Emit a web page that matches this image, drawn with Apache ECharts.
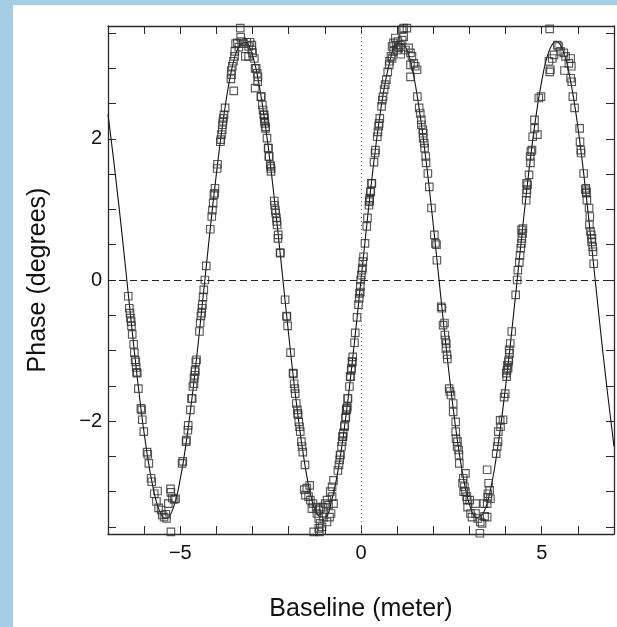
<!DOCTYPE html>
<html>
<head>
<meta charset="utf-8">
<script src="https://cdn.jsdelivr.net/npm/echarts/dist/echarts.min.js"></script>
<style>
html,body{margin:0;padding:0;background:#ffffff;}
#bandL{position:absolute;left:0;top:0;width:13px;height:627px;background:#a5cce4;}
#bandT{position:absolute;left:0;top:0;width:617px;height:5px;background:#a5cce4;}
#chart{position:absolute;left:0;top:0;width:617px;height:627px;}
</style>
</head>
<body>
<div id="bandL"></div>
<div id="bandT"></div>
<div id="chart"></div>
<script>
// ---- axis ticks / labels ----
const xTickValues = [-6,-5,-4,-3,-2,-1,0,1,2,3,4,5,6];
const xLabelValues = [-5,0,5];
const yTickValues = [-3.5,-3,-2.5,-2,-1.5,-1,-0.5,0,0.5,1,1.5,2,2.5,3,3.5];
const yLabelValues = [-2,0,2];

// ---- fitted model curve ----
const fitCurve = [[-7.0,2.35],[-6.8,1.51],[-6.6,0.59],[-6.4,-0.39],[-6.2,-1.34],[-6.0,-2.17],[-5.8,-2.82],[-5.6,-3.24],[-5.4,-3.38],[-5.2,-3.24],[-5.0,-2.82],[-4.8,-2.17],[-4.6,-1.34],[-4.4,-0.39],[-4.2,0.59],[-4.0,1.51],[-3.8,2.31],[-3.6,2.93],[-3.4,3.29],[-3.2,3.37],[-3.0,3.18],[-2.8,2.71],[-2.6,2.02],[-2.4,1.16],[-2.2,0.20],[-2.0,-0.78],[-1.8,-1.69],[-1.6,-2.46],[-1.4,-3.03],[-1.2,-3.33],[-1.0,-3.36],[-0.8,-3.10],[-0.6,-2.59],[-0.4,-1.86],[-0.2,-0.97],[0,0],[0.2,0.97],[0.4,1.86],[0.6,2.59],[0.8,3.10],[1.0,3.36],[1.2,3.33],[1.4,3.03],[1.6,2.46],[1.8,1.69],[2.0,0.78],[2.2,-0.20],[2.4,-1.16],[2.6,-2.02],[2.8,-2.71],[3.0,-3.18],[3.2,-3.37],[3.4,-3.29],[3.6,-2.93],[3.8,-2.31],[4.0,-1.51],[4.2,-0.59],[4.4,0.39],[4.6,1.34],[4.8,2.17],[5.0,2.82],[5.2,3.24],[5.4,3.38],[5.6,3.24],[5.8,2.82],[6.0,2.17],[6.2,1.34],[6.4,0.39],[6.6,-0.59],[6.8,-1.51],[7.0,-2.36]];

// ---- measured phases (baseline m, phase deg) ----
const obsLeft = [[-6.44,-0.23],[-6.41,-0.40],[-6.39,-0.47],[-6.38,-0.54],[-6.36,-0.59],[-6.35,-0.65],[-6.33,-0.77],[-6.29,-0.91],[-6.27,-1.03],[-6.25,-1.13],[-6.23,-1.16],[-6.22,-1.24],[-6.21,-1.31],[-6.19,-1.32],[-6.16,-1.54],[-6.09,-1.82],[-6.07,-1.84],[-6.05,-1.98],[-6.01,-2.15],[-5.92,-2.44],[-5.90,-2.47],[-5.87,-2.60],[-5.81,-2.81],[-5.79,-2.86],[-5.72,-3.03],[-5.66,-3.14],[-5.63,-2.99],[-5.60,-3.23],[-5.53,-3.26],[-5.50,-3.33],[-5.45,-3.36],[-5.40,-3.32],[-5.38,-3.38],[-5.33,-3.17],[-5.27,-2.96],[-5.26,-3.01],[-5.22,-3.09],[-5.17,-3.11],[-5.13,-3.10],[-5.26,-3.57],[-4.95,-2.60],[-4.93,-2.57]];
const obsRiseA = [[-4.84,-2.29],[-4.83,-2.27],[-4.79,-2.13],[-4.78,-2.06],[-4.72,-1.84],[-4.69,-1.68],[-4.67,-1.68],[-4.65,-1.51],[-4.62,-1.47],[-4.62,-1.39],[-4.60,-1.35],[-4.59,-1.30],[-4.59,-1.28],[-4.57,-1.16],[-4.55,-1.13],[-4.47,-0.73],[-4.45,-0.61],[-4.43,-0.51],[-4.41,-0.47],[-4.40,-0.40],[-4.39,-0.35],[-4.37,-0.24],[-4.35,-0.14],[-4.32,0.00],[-4.28,0.20],[-4.17,0.72],[-4.13,0.90],[-4.11,0.99],[-4.09,1.09],[-4.07,1.21],[-4.05,1.23],[-4.04,1.30],[-3.98,1.58],[-3.97,1.64],[-3.89,1.96],[-3.88,1.99],[-3.86,2.06],[-3.84,2.13],[-3.83,2.20],[-3.82,2.25],[-3.81,2.29],[-3.79,2.34],[-3.76,2.44]];
const obsPeakA = [[-3.52,2.68],[-3.60,2.85],[-3.58,2.91],[-3.59,2.97],[-3.56,3.03],[-3.53,3.10],[-3.50,3.17],[-3.49,3.24],[-3.47,3.35],[-3.42,3.36],[-3.38,3.30],[-3.33,3.44],[-3.34,3.57],[-3.30,3.38],[-3.25,3.35],[-3.20,3.17],[-3.16,3.37],[-3.11,3.31],[-3.11,3.17],[-3.07,3.37],[-3.02,3.33],[-3.02,3.26],[-3.00,3.22],[-2.95,3.14],[-2.93,3.00],[-2.90,3.00],[-2.87,2.93],[-2.85,2.88],[-2.86,2.81],[-2.93,2.72]];
const obsFallA = [[-2.77,2.60],[-2.76,2.60],[-2.73,2.48],[-2.71,2.41],[-2.69,2.34],[-2.68,2.34],[-2.67,2.29],[-2.67,2.25],[-2.66,2.22],[-2.64,2.17],[-2.64,2.15],[-2.60,2.01],[-2.57,1.87],[-2.56,1.87],[-2.54,1.75],[-2.55,1.75],[-2.51,1.63],[-2.50,1.61],[-2.49,1.58],[-2.49,1.54],[-2.40,1.12],[-2.39,1.06],[-2.37,0.99],[-2.36,0.95],[-2.34,0.88],[-2.33,0.83],[-2.32,0.78],[-2.29,0.64],[-2.30,0.59],[-2.24,0.39],[-2.23,0.38],[-2.10,-0.28],[-2.06,-0.51],[-2.05,-0.52],[-2.03,-0.65],[-1.95,-1.03],[-1.88,-1.32],[-1.87,-1.33],[-1.85,-1.47],[-1.83,-1.54],[-1.82,-1.61],[-1.79,-1.75],[-1.76,-1.84],[-1.75,-1.89],[-1.74,-1.91],[-1.72,-2.01],[-1.70,-2.08],[-1.68,-2.15],[-1.65,-2.29],[-1.63,-2.36],[-1.61,-2.44],[-1.55,-2.62]];
const obsTroughB = [[-1.57,-2.97],[-1.50,-2.95],[-1.42,-2.91],[-1.54,-3.05],[-1.45,-3.07],[-1.40,-3.12],[-1.33,-3.17],[-1.36,-3.24],[-1.24,-3.22],[-1.17,-3.26],[-1.13,-3.24],[-1.05,-3.22],[-0.99,-3.17],[-0.94,-3.12],[-0.90,-3.19],[-0.85,-3.00],[-0.80,-2.93],[-0.76,-2.84],[-0.76,-3.17],[-0.80,-3.07],[-1.22,-3.31],[-1.17,-3.38],[-1.13,-3.45],[-1.08,-3.50],[-1.17,-3.52],[-1.31,-3.57],[-1.15,-3.57],[-0.94,-3.43],[-0.87,-3.36],[-0.83,-3.31],[-1.04,-3.36]];
const obsRiseB = [[-0.64,-2.70],[-0.61,-2.62],[-0.59,-2.55],[-0.57,-2.48],[-0.58,-2.48],[-0.54,-2.36],[-0.52,-2.29],[-0.50,-2.22],[-0.51,-2.22],[-0.49,-2.17],[-0.46,-2.08],[-0.45,-2.06],[-0.43,-1.96],[-0.42,-1.94],[-0.40,-1.84],[-0.41,-1.84],[-0.39,-1.82],[-0.38,-1.80],[-0.36,-1.68],[-0.37,-1.68],[-0.32,-1.51],[-0.29,-1.37],[-0.30,-1.37],[-0.27,-1.28],[-0.26,-1.25],[-0.24,-1.16],[-0.25,-1.16],[-0.23,-1.09],[-0.18,-0.89],[-0.16,-0.75],[-0.11,-0.53],[-0.07,-0.35],[-0.05,-0.26],[-0.04,-0.19],[-0.02,-0.17],[-0.02,-0.09],[-0.01,0.00],[0.01,0.07],[0.03,0.14],[0.04,0.17],[0.05,0.26],[0.07,0.33],[0.11,0.52],[0.16,0.76],[0.18,0.88],[0.22,1.06],[0.23,1.11],[0.24,1.13],[0.24,1.16],[0.26,1.25],[0.27,1.25],[0.29,1.37],[0.30,1.37],[0.36,1.67],[0.39,1.80],[0.40,1.84],[0.45,2.03],[0.47,2.10],[0.49,2.18],[0.50,2.22],[0.52,2.29],[0.57,2.46],[0.59,2.55],[0.61,2.60],[0.64,2.70],[0.67,2.77],[0.70,2.84],[0.74,2.95],[0.78,3.05],[0.79,3.10],[0.83,3.17]];
const obsPeakB = [[0.86,3.14],[0.86,3.31],[0.90,3.36],[0.95,3.43],[0.90,3.24],[0.97,3.33],[1.00,3.26],[1.02,3.38],[1.04,3.29],[1.09,3.33],[1.10,3.20],[1.14,3.40],[1.18,3.45],[1.14,3.55],[1.18,3.57],[1.27,3.57],[1.23,3.26],[1.32,3.29],[1.37,3.22],[1.41,3.17],[1.37,3.05],[1.46,3.07],[1.50,3.03],[1.55,2.98],[1.37,2.88]];
const obsFallB = [[1.56,2.60],[1.61,2.44],[1.64,2.36],[1.67,2.27],[1.67,2.20],[1.71,2.13],[1.72,2.08],[1.72,2.01],[1.75,1.94],[1.76,1.87],[1.79,1.75],[1.80,1.66],[1.85,1.51],[1.89,1.32],[1.95,1.02],[2.03,0.64],[2.06,0.52],[2.09,0.50],[2.10,0.28],[2.22,-0.38],[2.24,-0.40],[2.27,-0.64],[2.31,-0.61],[2.32,-0.78],[2.34,-0.85],[2.36,-0.90],[2.35,-0.97],[2.38,-1.06],[2.39,-1.12],[2.44,-1.54],[2.46,-1.58],[2.49,-1.63],[2.55,-1.75],[2.55,-1.87],[2.62,-2.01],[2.62,-2.15],[2.63,-2.25],[2.67,-2.29],[2.66,-2.36],[2.70,-2.41],[2.71,-2.48],[2.72,-2.60]];
const obsTroughC = [[2.89,-2.74],[2.83,-2.81],[2.81,-2.88],[2.86,-2.93],[2.84,-3.00],[2.89,-3.00],[2.92,-3.07],[2.94,-3.12],[3.01,-3.12],[2.95,-3.22],[3.03,-3.31],[3.07,-3.36],[3.17,-3.17],[3.17,-3.31],[3.23,-3.38],[3.30,-3.43],[3.35,-3.45],[3.42,-3.35],[3.49,-3.36],[3.40,-3.17],[3.49,-3.17],[3.51,-3.03],[3.56,-2.98],[3.53,-2.88],[3.49,-2.69],[3.58,-3.10],[3.51,-3.08],[3.29,-3.59]];
const obsRiseC = [[3.74,-2.46],[3.77,-2.36],[3.79,-2.29],[3.80,-2.15],[3.86,-2.08],[3.85,-1.99],[3.93,-1.98],[3.96,-1.66],[3.99,-1.61],[4.03,-1.37],[4.02,-1.32],[4.04,-1.28],[4.07,-1.25],[4.05,-1.21],[4.08,-1.16],[4.09,-1.13],[4.11,-1.04],[4.10,-0.99],[4.13,-0.90],[4.17,-0.73],[4.28,-0.21],[4.32,0.00],[4.34,0.14],[4.38,0.25],[4.40,0.35],[4.42,0.45],[4.44,0.52],[4.45,0.59],[4.47,0.66],[4.44,0.71],[4.48,0.73],[4.57,1.13],[4.58,1.23],[4.59,1.28],[4.61,1.35],[4.58,1.37],[4.65,1.49],[4.69,1.66],[4.68,1.75],[4.70,1.82],[4.73,1.84],[4.75,2.03],[4.80,2.15],[4.80,2.27],[4.88,2.06],[4.92,2.58],[4.98,2.60]];
const obsPeakC = [[5.20,3.10],[5.22,2.95],[5.24,2.98],[5.29,3.14],[5.34,3.19],[5.43,3.33],[5.47,3.31],[5.52,3.24],[5.61,3.22],[5.66,3.17],[5.75,3.07],[5.80,3.14],[5.82,3.03],[5.63,2.97],[5.22,3.56]];
const obsFallC = [[5.80,2.86],[5.83,2.81],[5.86,2.60],[5.91,2.44],[6.05,2.15],[6.06,1.96],[6.08,1.84],[6.09,1.80],[6.16,1.51],[6.22,1.30],[6.24,1.25],[6.23,1.23],[6.21,1.28],[6.25,1.13],[6.31,1.02],[6.33,0.90],[6.32,0.78],[6.35,0.69],[6.37,0.64],[6.39,0.59],[6.38,0.54],[6.41,0.47],[6.42,0.40],[6.44,0.23]];

const observed = [].concat(obsLeft, obsRiseA, obsPeakA, obsFallA, obsTroughB, obsRiseB, obsPeakB, obsFallB, obsTroughC, obsRiseC, obsPeakC, obsFallC);

const FONT = '"Liberation Sans", Arial, Helvetica, sans-serif';
const AX = '#2a2a2a';
const minus = v => String(v).replace('-', '\u2212');

function frameAxis(pos, min, max, ticks, labels, extra) {
  const isX = (pos === 'bottom' || pos === 'top');
  const main = (pos === 'bottom' || pos === 'left');
  return Object.assign({
    type: 'value', position: pos, min: min, max: max,
    axisLine: { show: true, onZero: false, lineStyle: { color: AX, width: 1.3 } },
    axisTick: { show: true, inside: true, length: 8, customValues: ticks, lineStyle: { color: AX, width: 1 } },
    axisLabel: main ? { show: true, customValues: labels, formatter: minus, fontSize: 20, color: '#111', fontFamily: FONT, margin: isX ? 9 : 6 } : { show: false },
    splitLine: { show: false }
  }, extra || {});
}

const chart = echarts.init(document.getElementById('chart'), null, { renderer: 'canvas' });
chart.setOption({
  animation: false,
  grid: { left: 108, right: 3, top: 26, bottom: 93, containLabel: false },
  xAxis: [
    frameAxis('bottom', -7, 7, xTickValues, xLabelValues, {
      name: 'Baseline (meter)', nameLocation: 'middle', nameGap: 63,
      nameTextStyle: { fontSize: 25, color: '#111', fontFamily: FONT }
    }),
    frameAxis('top', -7, 7, xTickValues, xLabelValues)
  ],
  yAxis: [
    frameAxis('left', -3.6, 3.6, yTickValues, yLabelValues, {
      name: 'Phase (degrees)', nameLocation: 'middle', nameGap: 57,
      nameTextStyle: { fontSize: 25, color: '#111', fontFamily: FONT }
    }),
    frameAxis('right', -3.6, 3.6, yTickValues, yLabelValues)
  ],
  series: [
    {
      type: 'line', xAxisIndex: 0, yAxisIndex: 0,
      data: fitCurve, smooth: 0.4, symbol: 'none',
      lineStyle: { color: '#111', width: 1.1 }, z: 3,
      markLine: {
        silent: true, symbol: 'none', label: { show: false },
        data: [
          { yAxis: 0, lineStyle: { type: [7, 4], color: '#222', width: 1 } },
          { xAxis: 0, lineStyle: { type: [1, 3], color: '#777', width: 1 } }
        ]
      }
    },
    {
      type: 'scatter', xAxisIndex: 0, yAxisIndex: 0,
      data: observed, symbol: 'rect', symbolSize: 7.5,
      itemStyle: { color: 'rgba(255,255,255,0)', borderColor: '#2f2f2f', borderWidth: 1.15 },
      z: 4
    }
  ]
});
</script>
</body>
</html>
